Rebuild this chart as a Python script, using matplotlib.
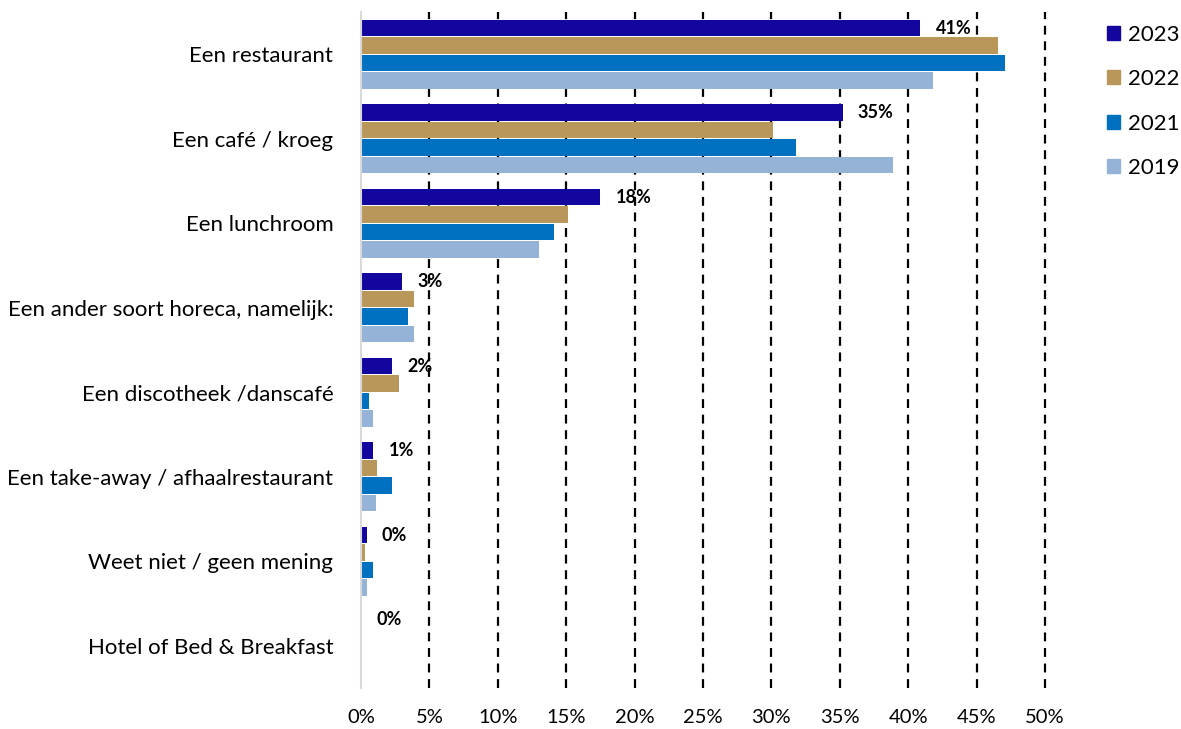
import numpy as np
import matplotlib.pyplot as plt
from matplotlib.patches import Patch

plt.rcParams['font.family'] = ['Lato', 'DejaVu Sans']

categories = ["Een restaurant", "Een café / kroeg", "Een lunchroom",
              "Een ander soort horeca, namelijk:", "Een discotheek /danscafé",
              "Een take-away / afhaalrestaurant", "Weet niet / geen mening",
              "Hotel of Bed & Breakfast"]
years = ["2023", "2022", "2021", "2019"]
v2023 = [40.9, 35.2, 17.5, 3.0, 2.3, 0.9, 0.4, 0.0]
v2022 = [46.6, 30.1, 15.1, 3.9, 2.8, 1.2, 0.3, 0.0]
v2021 = [47.1, 31.8, 14.1, 3.4, 0.6, 2.3, 0.9, 0.0]
v2019 = [41.8, 38.9, 13.0, 3.9, 0.9, 1.1, 0.4, 0.0]
labels2023 = ["41%", "35%", "18%", "3%", "2%", "1%", "0%", "0%"]
colors = ["#12069E", "#B9975B", "#0070C0", "#95B3D7"]

fig = plt.figure(figsize=(11.81, 7.29), dpi=100)
ax = fig.add_axes([0.3057, 0.0562, 0.5791, 0.9273])

n = len(categories)
y = np.arange(n)
h = 0.207
series = [v2023, v2022, v2021, v2019]
for i, (vals, c) in enumerate(zip(series, colors)):
    ax.barh(y - 1.5 * h + i * h, vals, height=h * 0.92, color=c)

for yi, val, lab in zip(y, v2023, labels2023):
    ax.annotate(lab, (val, yi - 1.5 * h), xytext=(11, 0), textcoords="offset points",
                va="center", ha="left", fontsize=13, fontweight="bold")

ax.set_xlim(0, 50)
ax.set_ylim(n - 0.5, -0.5)
ax.set_xticks(np.arange(0, 51, 5))
ax.set_xticklabels([f"{t}%" for t in range(0, 51, 5)], fontsize=14.5)
ax.set_yticks(y)
ax.set_yticklabels(categories, fontsize=16)
ax.tick_params(length=0)
ax.tick_params(axis="x", pad=15)
ax.tick_params(axis="y", pad=20)
for t in range(5, 51, 5):
    ax.axvline(t, color="black", linestyle=(0, (4, 3)), linewidth=1.6, zorder=0, clip_on=False)
for s in ["top", "right", "bottom"]:
    ax.spines[s].set_visible(False)
ax.spines["left"].set_color("#D9D9D9")
ax.spines["left"].set_linewidth(1.5)

handles = [Patch(color=c, label=yr) for c, yr in zip(colors, years)]
fig.legend(handles=handles, loc="upper left", bbox_to_anchor=(0.937, 0.966),
           frameon=False, fontsize=16, handlelength=0.6, handleheight=0.6,
           labelspacing=1.1, handletextpad=0.35, borderpad=0, borderaxespad=0)

fig.savefig("out.png", dpi=100)
